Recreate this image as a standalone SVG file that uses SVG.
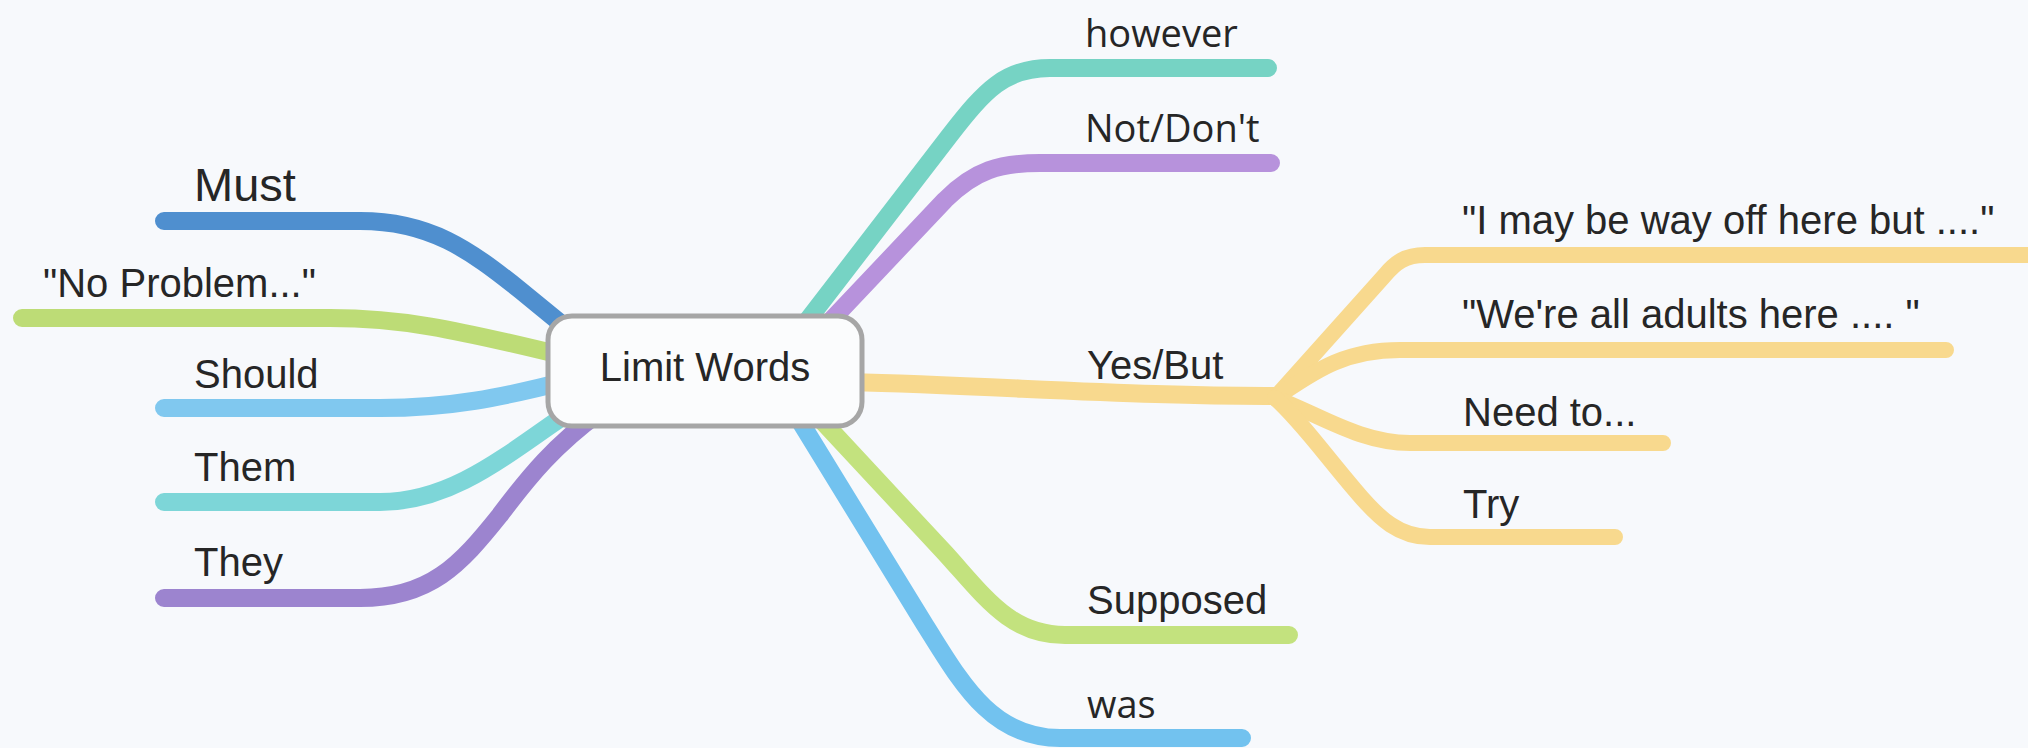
<svg xmlns="http://www.w3.org/2000/svg" width="2028" height="748" viewBox="0 0 2028 748">
  <style>
    .ln { fill: none; stroke-linecap: round; stroke-linejoin: round; stroke-width: 18; }
    .sub { stroke-width: 16; }
    .lbl { font-family: "Liberation Sans", Arial, sans-serif; font-size: 40px; fill: #262626; }
    .hum { font-family: "Open Sans", "DejaVu Sans", sans-serif; font-size: 38px; fill: #262626; }
    .c-must { stroke: #4f8fcf; }
    .c-nop { stroke: #bddc76; }
    .c-should { stroke: #80c8ef; }
    .c-them { stroke: #7dd6d8; }
    .c-they { stroke: #9c84cf; }
    .c-however { stroke: #76d3c4; }
    .c-not { stroke: #b792dc; }
    .c-yes { stroke: #f8d98e; }
    .c-sup { stroke: #c3e27e; }
    .c-was { stroke: #72c2ef; }
  </style>
  <rect x="0" y="0" width="2028" height="748" fill="#f7f9fc"/>
  <g id="connectors">
    <path class="ln c-must" d="M164 221 H360 C430 221 470 250 520 290 L575 335"/>
    <path class="ln c-nop" d="M22 318 H330 C400 318 450 328 565 356"/>
    <path class="ln c-should" d="M164 408 H380 C450 408 500 398 570 380"/>
    <path class="ln c-them" d="M164 502 H380 C450 502 500 460 575 408"/>
    <path class="ln c-they" d="M164 598 H360 C430 598 460 565 500 515 C530 475 555 445 600 412"/>
    <path class="ln c-however" d="M800 330 L950 135 C985 90 1005 68 1050 68 H1268"/>
    <path class="ln c-not" d="M822 330 L945 200 C975 170 1000 163 1040 163 H1271"/>
    <path class="ln c-sup" d="M812 410 L945 553 C985 597 1010 635 1065 635 H1289"/>
    <path class="ln c-was" d="M790 405 L925 625 C960 680 990 738 1060 738 H1242"/>
    <path class="ln c-yes" d="M850 382 C1000 386 1150 397 1282 396"/>
    <path class="ln sub c-yes" d="M1275 398 L1385 275 C1395 263 1405 255 1425 255 H2045"/>
    <path class="ln sub c-yes" d="M1275 398 C1310 375 1340 350 1400 350 H1946"/>
    <path class="ln sub c-yes" d="M1275 398 C1320 415 1360 443 1410 443 H1663"/>
    <path class="ln sub c-yes" d="M1275 398 C1300 420 1325 455 1355 490 C1380 520 1400 537 1430 537 H1615"/>
  </g>
  <g id="node-center">
    <rect x="548" y="316" width="314" height="110" rx="24" ry="24" fill="#fbfcfd" stroke="#a6a6a6" stroke-width="5"/>
    <text class="lbl" x="705" y="381" text-anchor="middle" font-size="39">Limit Words</text>
  </g>
  <g id="node-must"><text class="lbl" x="194" y="201" style="font-size:47px">Must</text></g>
  <g id="node-noproblem"><text class="lbl" x="43" y="297">"No Problem..."</text></g>
  <g id="node-should"><text class="lbl" x="194" y="388">Should</text></g>
  <g id="node-them"><text class="lbl" x="194" y="481">Them</text></g>
  <g id="node-they"><text class="lbl" x="194" y="576">They</text></g>
  <g id="node-however"><text class="hum" x="1085" y="47">however</text></g>
  <g id="node-notdont"><text class="hum" x="1085" y="142">Not/Don't</text></g>
  <g id="node-yesbut"><text class="lbl" x="1087" y="379">Yes/But</text></g>
  <g id="node-waywoff"><text class="lbl" x="1462" y="234">"I may be way off here but ...."</text></g>
  <g id="node-adults"><text class="lbl" x="1462" y="328">"We're all adults here .... "</text></g>
  <g id="node-needto"><text class="lbl" x="1463" y="426">Need to...</text></g>
  <g id="node-try"><text class="lbl" x="1463" y="518">Try</text></g>
  <g id="node-supposed"><text class="lbl" x="1087" y="614">Supposed</text></g>
  <g id="node-was"><text class="hum" x="1087" y="718">was</text></g>
</svg>
